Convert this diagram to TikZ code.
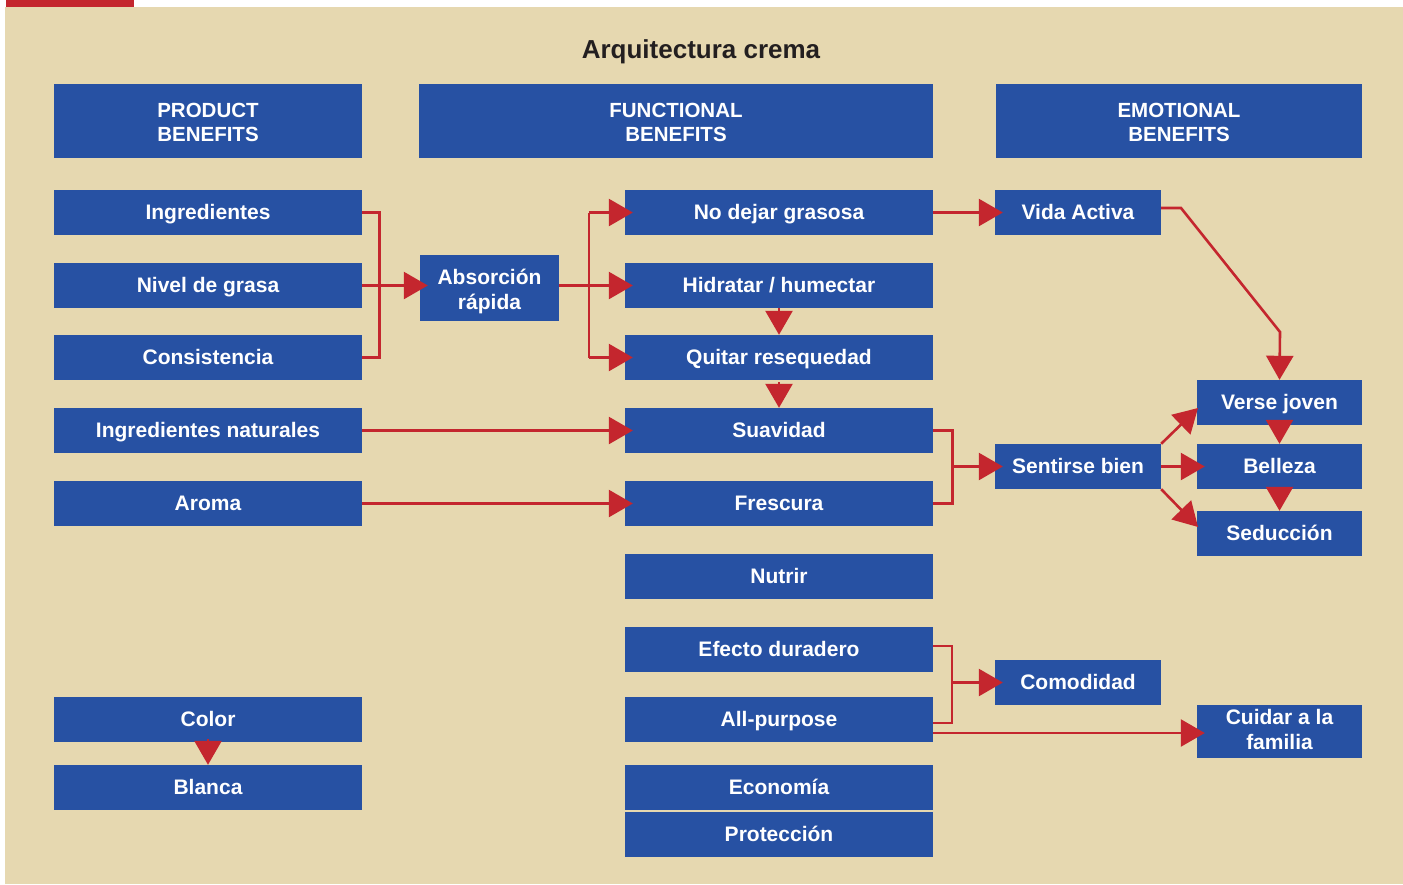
\documentclass[tikz,border=0pt]{standalone}
\usepackage{fontspec}
\setmainfont{Liberation Sans}
\usetikzlibrary{arrows.meta}
\definecolor{bg}{HTML}{E6D8B0}
\definecolor{boxblue}{HTML}{2751A3}
\definecolor{linered}{HTML}{C4262E}
\definecolor{titlecol}{HTML}{231F20}
\tikzset{
  box/.style={fill=boxblue, draw=none, inner sep=0pt, text=white, font=\fontsize{21}{25}\selectfont\bfseries, align=center, anchor=center, text height=17.5pt, text depth=4.5pt},
  hdr/.style={fill=boxblue, draw=none, inner sep=0pt, text=white, font=\fontsize{20.5}{23.6}\selectfont\bfseries, align=center, anchor=center, text height=45.1pt, text depth=4.5pt},
  two/.style={text height=46.5pt, text depth=4.5pt},
  c1/.style={box, minimum width=308pt, minimum height=45pt},
  c3/.style={box, minimum width=308pt, minimum height=45pt},
  c4/.style={box, minimum width=166pt, minimum height=45pt},
  c5/.style={box, minimum width=165pt, minimum height=45pt},
  conn/.style={draw=linered, line width=2.6pt},
  arr/.style={conn, -{Triangle[length=24pt,width=27pt]}, shorten >=-8pt},
  darr/.style={conn, -{Triangle[length=24pt,width=27pt]}},
}
\begin{document}
\begin{tikzpicture}[x=1pt,y=-1pt]
\useasboundingbox (0,0) rectangle (1403,884);
\fill[white] (0,0) rectangle (1403,884);
\fill[bg] (5,7) rectangle (1403,884);
\fill[linered] (6,0) rectangle (134,7);

\node[text=titlecol, font=\fontsize{26}{30}\selectfont\bfseries, anchor=base] (title) at (701,58) {Arquitectura crema};

% headers
\node[hdr, minimum width=308pt, minimum height=74pt] (h1) at (208,121) {PRODUCT\\BENEFITS};
\node[hdr, minimum width=514pt, minimum height=74pt] (h2) at (676,121) {FUNCTIONAL\\BENEFITS};
\node[hdr, minimum width=366pt, minimum height=74pt] (h3) at (1179,121) {EMOTIONAL\\BENEFITS};

% column 1
\node[c1] (ing) at (208,212.5) {Ingredientes};
\node[c1] (niv) at (208,285.5) {Nivel de grasa};
\node[c1] (con) at (208,357.5) {Consistencia};
\node[c1] (ingn) at (208,430.5) {Ingredientes naturales};
\node[c1] (aro) at (208,503.5) {Aroma};
\node[c1] (col) at (208,719.5) {Color};
\node[c1] (bla) at (208,787.5) {Blanca};

% column 2
\node[box, two, minimum width=139pt, minimum height=66pt] (abs) at (489.5,288) {Absorción\\rápida};

% column 3
\node[c3] (nod) at (779,212.5) {No dejar grasosa};
\node[c3] (hid) at (779,285.5) {Hidratar / humectar};
\node[c3] (qui) at (779,357.5) {Quitar resequedad};
\node[c3] (sua) at (779,430.5) {Suavidad};
\node[c3] (fre) at (779,503.5) {Frescura};
\node[c3] (nut) at (779,576.5) {Nutrir};
\node[c3] (efe) at (779,649.5) {Efecto duradero};
\node[c3] (all) at (779,719.5) {All-purpose};
\node[c3] (eco) at (779,787.5) {Economía};
\node[c3] (pro) at (779,834.5) {Protección};

% column 4
\node[c4] (vid) at (1078,212.5) {Vida Activa};
\node[c4] (sen) at (1078,466.5) {Sentirse bien};
\node[c4] (com) at (1078,682.5) {Comodidad};

% column 5
\node[c5] (ver) at (1279.5,402.5) {Verse joven};
\node[c5] (bel) at (1279.5,466.5) {Belleza};
\node[c5] (sed) at (1279.5,533.5) {Seducción};
\node[box, minimum width=165pt, minimum height=53pt, text height=39.5pt, text depth=4.5pt] (cui) at (1279.5,731.5) {Cuidar a la\\familia};

% connectors
\draw[conn] (ing.east) -- ++(17,0) |- (con.east);
\draw[arr] (niv.east) -- (abs.west |- niv.east);
\coordinate (b2) at (589,285.5);
\draw[conn] (abs.east |- b2) -- (b2);
\draw[conn] (nod.west) ++(-36,0) coordinate (b2t) -- ++(0,145) coordinate (b2b);
\draw[arr] (b2t) -- (nod.west);
\draw[arr] (b2 |- hid.west) -- (hid.west);
\draw[arr] (b2b) -- (qui.west);
\draw[darr] (hid.south) -- (qui.north);
\draw[darr] (qui.south) ++(0,2) -- (sua.north);
\draw[arr] (ingn.east) -- (sua.west);
\draw[arr] (aro.east) -- (fre.west);
\draw[arr] (nod.east) -- (vid.west);
\draw[conn] (sua.east) -- ++(19,0) |- (fre.east);
\draw[arr] (952,466.5) -- (sen.west);
\draw[darr] (col.south) ++(0,-3) -- (bla.north);
% emotional
\draw[conn, -{Triangle[length=24pt,width=27pt]}, line join=miter]
  (vid.east |- 0,208) -- (1181,208) -- (1280,332) -- (ver.north);
\draw[darr] (sen.north east) -- (1198,408);
\draw[arr] (sen.east) -- (bel.west);
\draw[darr] (sen.south east) -- (1198,527);
\draw[darr] (ver.south) -- (bel.north);
\draw[darr] (bel.south) -- (sed.north);
\draw[conn] (efe.east |- 0,646) -- (952,646) -- (952,723) -- (all.east |- 0,723);
\draw[arr] (952,682.5) -- (com.west);
\draw[arr] (all.east |- 0,733) -- (cui.west |- 0,733);
\end{tikzpicture}
\end{document}
